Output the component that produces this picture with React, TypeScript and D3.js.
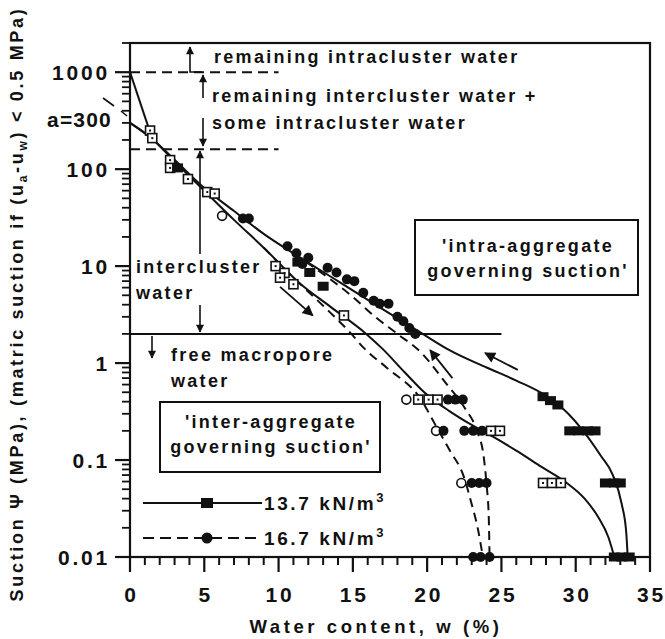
import React from 'react';
import * as d3 from 'd3';

// ---------- data (w in %, suction in MPa) ----------
const xTicks = [0, 5, 10, 15, 20, 25, 30, 35];
const yTicks = [0.01, 0.1, 1, 10, 100, 1000];
const yTickLabels = ['0.01', '0.1', '1', '10', '100', '1000'];

const steepLine: number[][] = [[0, 1000], [1.5, 205]];

const upperSolid: number[][] = [
  [0, 300], [1.5, 205], [3, 125], [5, 64], [7, 37], [9, 21.5], [11.4, 12.4], [14, 7],
  [17, 3.6], [19.7, 2.0], [21.5, 1.36], [24, 0.9], [26, 0.66], [28, 0.46], [29.5, 0.3],
  [30.5, 0.2], [31.7, 0.11], [32.5, 0.07], [33.1, 0.035], [33.4, 0.018], [33.5, 0.01],
];

const lowerSolid: number[][] = [
  [0, 300], [1.5, 205], [3, 120], [5, 60], [7, 30], [9, 15.5], [11.4, 6.7], [13.5, 3.8],
  [15.9, 2.0], [17, 1.4], [18.5, 0.8], [20, 0.47], [21.5, 0.32], [23, 0.23], [24.4, 0.175],
  [26, 0.125], [27.7, 0.085], [29.4, 0.058], [30.6, 0.04], [31.5, 0.026], [32.2, 0.016], [32.6, 0.01],
];

const upperDashed: number[][] = [
  [11, 13.5], [13, 8.3], [14.8, 5.1], [16.5, 3.0], [18, 2.0], [19.6, 1.28], [21.3, 0.61],
  [22.5, 0.35], [23.35, 0.2], [23.8, 0.11], [24.0, 0.056], [24.15, 0.025], [24.2, 0.01],
];

const lowerDashed: number[][] = [
  [9, 15.5], [11, 7.6], [13, 3.9], [14.9, 2.0], [15.7, 1.45], [17.3, 0.89], [19.5, 0.44],
  [20.7, 0.21], [21.6, 0.12], [22.4, 0.072], [23.0, 0.035], [23.4, 0.02], [23.75, 0.01],
];

const openSquares: number[][] = [
  [1.35, 250], [1.5, 209], [2.7, 124], [2.7, 103], [3.9, 79], [5.2, 58], [5.7, 56],
  [9.8, 10], [10.4, 8.5], [10.1, 7.6], [11.0, 6.5], [14.4, 3.1],
  [19.4, 0.42], [20.1, 0.42], [20.7, 0.42], [24.3, 0.2], [24.9, 0.2],
  [27.8, 0.058], [28.4, 0.058], [29.0, 0.058],
];

const filledSquares: number[][] = [
  [3.2, 103], [11.3, 11], [12.1, 8.6], [13.0, 6.2],
  [27.8, 0.45], [28.3, 0.41], [28.8, 0.37],
  [29.6, 0.2], [30.2, 0.2], [30.8, 0.2], [31.3, 0.2],
  [32.0, 0.058], [32.6, 0.058], [33.0, 0.058],
  [32.6, 0.01], [33.1, 0.01], [33.6, 0.01],
];

const openCircles: number[][] = [
  [6.2, 33], [18.6, 0.42], [20.6, 0.2], [22.3, 0.058],
];

const filledCircles: number[][] = [
  [7.6, 31], [8.0, 31], [10.6, 16], [11.2, 13.6], [12.0, 12.2], [11.6, 10.5],
  [13.3, 9.6], [13.9, 8.6], [14.6, 7.3], [15.1, 7.0], [15.7, 5.3], [16.4, 4.4],
  [16.8, 4.1], [17.4, 4.1], [18.0, 3.0], [18.4, 2.7], [18.8, 2.3], [19.2, 2.0],
  [21.4, 0.42], [21.9, 0.42], [22.4, 0.42],
  [21.1, 0.2], [22.5, 0.2], [23.1, 0.2], [23.7, 0.2],
  [23.0, 0.058], [23.5, 0.058], [24.0, 0.058],
  [23.1, 0.01], [23.6, 0.01], [24.2, 0.01],
];

// direction arrows along curves: [w0, s0, w1, s1]
const pathArrows: number[][] = [
  [10.1, 6.1, 12.3, 3.1],
  [21.7, 0.7, 20.2, 1.36],
  [26.1, 0.85, 23.9, 1.27],
];

// reference suction levels
const refDashed = [1000, 160];
const refSolid = 2;

// ---------- chart ----------
const W = 665;
const H = 639;
const FONT = "'Liberation Sans', Arial, Helvetica, sans-serif";

export default function App() {
  const x = d3.scaleLinear().domain([0, 35]).range([130, 650]);
  const y = d3.scaleLog().domain([0.01, 2000]).range([557, 43]);

  const line = d3
    .line<number[]>()
    .x((d) => x(d[0]))
    .y((d) => y(d[1]))
    .curve(d3.curveMonotoneX);
  const straight = d3
    .line<number[]>()
    .x((d) => x(d[0]))
    .y((d) => y(d[1]));

  const minorX = d3.range(0, 36, 1).filter((v) => v % 5 !== 0);
  const minorY: number[] = [];
  [0.01, 0.1, 1, 10, 100, 1000].forEach((dec) => {
    for (let k = 2; k <= 9; k++) {
      const v = dec * k;
      if (v <= 2000) minorY.push(v);
    }
  });

  const x0 = x(0);
  const yb = y(0.01);
  const ink = '#111';
  const tickFont = { fontFamily: FONT, fontWeight: 700, fontSize: 21, letterSpacing: 2.8 } as const;
  const txt = { fontFamily: FONT, fontWeight: 700, fontSize: 18, letterSpacing: 2.3, fill: ink } as const;

  return (
    <svg
      width={W}
      height={H}
      viewBox={`0 0 ${W} ${H}`}
      style={{ position: 'absolute', left: 0, top: 0, background: '#fff' }}
    >
      <defs>
        <marker id="ah" viewBox="0 0 10 10" refX="9" refY="5" markerWidth="9" markerHeight="8"
          markerUnits="userSpaceOnUse" orient="auto">
          <path d="M0,0 L10,5 L0,10 z" fill={ink} />
        </marker>
        <marker id="ahBig" viewBox="0 0 10 10" refX="9" refY="5" markerWidth="15" markerHeight="11"
          markerUnits="userSpaceOnUse" orient="auto">
          <path d="M0,0 L10,5 L0,10 z" fill={ink} />
        </marker>
      </defs>
      <rect x={0} y={0} width={W} height={H} fill="#fff" />

      {/* frame */}
      <rect x={x0} y={y(2000)} width={x(35) - x0} height={yb - y(2000)} fill="none" stroke={ink} strokeWidth={2.2} />

      {/* x ticks */}
      {minorX.map((v) => (
        <line key={'mx' + v} x1={x(v)} x2={x(v)} y1={yb} y2={yb + 8} stroke={ink} strokeWidth={2} />
      ))}
      {xTicks.map((v) => (
        <g key={'x' + v}>
          <line x1={x(v)} x2={x(v)} y1={yb} y2={yb + 15} stroke={ink} strokeWidth={2.2} />
          <text x={x(v) + 1.5} y={602} textAnchor="middle" {...tickFont} fill={ink}>{v}</text>
        </g>
      ))}

      {/* y ticks */}
      {minorY.map((v) => (
        <line key={'my' + v} x1={x0 - 8} x2={x0} y1={y(v)} y2={y(v)} stroke={ink} strokeWidth={1.8} />
      ))}
      {yTicks.map((v, i) => (
        <g key={'y' + v}>
          <line x1={x0 - 15} x2={x0} y1={y(v)} y2={y(v)} stroke={ink} strokeWidth={2.2} />
          <text x={110} y={y(v) + 8} textAnchor="end" {...tickFont} fill={ink}>{yTickLabels[i]}</text>
        </g>
      ))}

      {/* a=300 label and leader */}
      <text x={112} y={127} textAnchor="end" {...tickFont} letterSpacing={1.2} fill={ink}>a=300</text>
      <line x1={103} y1={98} x2={114} y2={106} stroke={ink} strokeWidth={1.6} />
      <line x1={121} y1={111} x2={127} y2={116} stroke={ink} strokeWidth={1.6} />

      {/* reference lines */}
      {refDashed.map((s) => (
        <line key={'rd' + s} x1={x0} x2={x(10)} y1={y(s)} y2={y(s)} stroke={ink} strokeWidth={2} strokeDasharray="10,6" />
      ))}
      <line x1={x0} x2={x(25)} y1={y(refSolid)} y2={y(refSolid)} stroke={ink} strokeWidth={2} />

      {/* curves */}
      <path d={straight(steepLine) || ''} fill="none" stroke={ink} strokeWidth={2} />
      <path d={line(upperSolid) || ''} fill="none" stroke={ink} strokeWidth={2} />
      <path d={line(lowerSolid) || ''} fill="none" stroke={ink} strokeWidth={2} />
      <path d={line(upperDashed) || ''} fill="none" stroke={ink} strokeWidth={2} strokeDasharray="9,6" />
      <path d={line(lowerDashed) || ''} fill="none" stroke={ink} strokeWidth={2} strokeDasharray="9,6" />

      {/* markers */}
      {openSquares.map((d, i) => (
        <g key={'os' + i}>
          <rect x={x(d[0]) - 4.5} y={y(d[1]) - 4.5} width={9} height={9} fill="#fff" stroke={ink} strokeWidth={1.6} />
          <rect x={x(d[0]) - 1} y={y(d[1]) - 1} width={2} height={2} fill={ink} />
        </g>
      ))}
      {openCircles.map((d, i) => (
        <circle key={'oc' + i} cx={x(d[0])} cy={y(d[1])} r={4.5} fill="#fff" stroke={ink} strokeWidth={1.6} />
      ))}
      {filledSquares.map((d, i) => (
        <rect key={'fs' + i} x={x(d[0]) - 5.5} y={y(d[1]) - 4.5} width={11} height={9} fill={ink} />
      ))}
      {filledCircles.map((d, i) => (
        <circle key={'fc' + i} cx={x(d[0])} cy={y(d[1])} r={5} fill={ink} />
      ))}

      {/* direction arrows */}
      {pathArrows.map((a, i) => (
        <line key={'pa' + i} x1={x(a[0])} y1={y(a[1])} x2={x(a[2])} y2={y(a[3])} stroke={ink} strokeWidth={1.8} markerEnd="url(#ahBig)" />
      ))}

      {/* water type annotations */}
      <polyline points="202,72 190,72 190,47" fill="none" stroke={ink} strokeWidth={1.6} markerEnd="url(#ah)" />
      <line x1={203} y1={98} x2={203} y2={75} stroke={ink} strokeWidth={1.6} markerEnd="url(#ah)" />
      <line x1={203} y1={118} x2={203} y2={146} stroke={ink} strokeWidth={1.6} markerEnd="url(#ah)" />
      <line x1={200} y1={254} x2={200} y2={151} stroke={ink} strokeWidth={1.6} markerEnd="url(#ah)" />
      <line x1={200} y1={305} x2={200} y2={332} stroke={ink} strokeWidth={1.6} markerEnd="url(#ah)" />
      <line x1={152} y1={336} x2={152} y2={358} stroke={ink} strokeWidth={1.6} markerEnd="url(#ah)" />

      <text x={214} y={63} {...txt}>remaining intracluster water</text>
      <text x={212} y={102} {...txt}>remaining intercluster water +</text>
      <text x={212} y={129} {...txt}>some intracluster water</text>
      <text x={136} y={273} {...txt}>intercluster</text>
      <text x={136} y={299} {...txt}>water</text>
      <text x={171} y={361} {...txt}>free macropore</text>
      <text x={171} y={387} {...txt}>water</text>

      {/* boxes */}
      <rect x={415} y={220} width={223} height={75} fill="#fff" stroke={ink} strokeWidth={2} />
      <text x={528} y={252} textAnchor="middle" {...txt}>'intra-aggregate</text>
      <text x={528} y={277} textAnchor="middle" {...txt}>governing suction'</text>
      <rect x={160} y={402} width={220} height={70} fill="#fff" stroke={ink} strokeWidth={2} />
      <text x={271} y={428} textAnchor="middle" {...txt}>'inter-aggregate</text>
      <text x={271} y={453} textAnchor="middle" {...txt}>governing suction'</text>

      {/* legend */}
      <line x1={143} x2={262} y1={503} y2={503} stroke={ink} strokeWidth={2} />
      <rect x={201} y={498} width={12} height={10} fill={ink} />
      <text x={264} y={510} {...txt} fontSize={19} letterSpacing={2.6}>
        13.7 kN/m<tspan dy={-8} fontSize={13}>3</tspan>
      </text>
      <line x1={143} x2={262} y1={538} y2={538} stroke={ink} strokeWidth={2} strokeDasharray="11,6" />
      <circle cx={207} cy={538} r={5.5} fill={ink} />
      <text x={264} y={545} {...txt} fontSize={19} letterSpacing={2.6}>
        16.7 kN/m<tspan dy={-8} fontSize={13}>3</tspan>
      </text>

      {/* axis titles */}
      <text x={376} y={633} textAnchor="middle" {...txt} fontSize={18.5} letterSpacing={3.6}>Water content, w (%)</text>
      <text
        transform="translate(23,304) rotate(-90)"
        textAnchor="middle"
        {...txt}
        fontSize={18}
        letterSpacing={2.7}
      >
        Suction Ψ (MPa), (matric suction if (u<tspan dy={4} fontSize={12}>a</tspan>
        <tspan dy={-4}>-u</tspan><tspan dy={4} fontSize={12}>w</tspan>
        <tspan dy={-4}>) &lt; 0.5 MPa)</tspan>
      </text>
    </svg>
  );
}
